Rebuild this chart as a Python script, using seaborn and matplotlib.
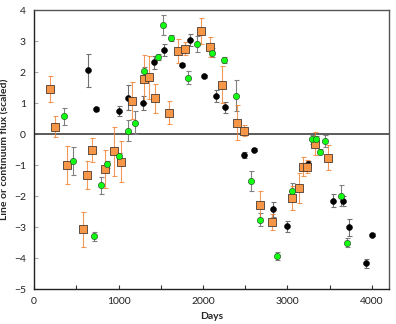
import numpy as np
import pandas as pd
import matplotlib
matplotlib.use('Agg')
from matplotlib import pyplot as plt
from matplotlib.ticker import MultipleLocator
import seaborn as sns

# orange squares (line flux)
orange_days = [183, 250, 391, 576, 631, 682, 845, 949, 1028, 1165, 1299, 1362, 1428,
               1601, 1708, 1783, 1973, 2081, 2219, 2404, 2482, 2671, 2820, 3048, 3137,
               3184, 3225, 3320, 3485]
orange_vals = [1.46, 0.24, -1.01, -3.08, -1.32, -0.51, -1.13, -0.55, -0.89, 1.07, 1.78,
               1.83, 1.15, 0.69, 2.68, 2.75, 3.33, 2.81, 1.59, 0.37, 0.11, -2.28, -2.85,
               -2.07, -1.74, -1.05, -1.05, -0.32, -0.76]
orange_errs = [0.42, 0.33, 0.61, 0.58, 0.45, 0.39, 0.62, 0.79, 0.67, 0.6, 0.78, 0.7, 0.46,
               0.37, 0.4, 0.21, 0.41, 0.32, 0.6, 0.56, 0.18, 0.43, 0.26, 0.39, 0.48,
               0.32, 0.2, 0.37, 0.41]

# black circles
black_days = [635, 737, 1010, 1111, 1290, 1423, 1543, 1751, 1851, 2007, 2152, 2258, 2486,
              2598, 2824, 2989, 3241, 3540, 3653, 3729, 3929, 3995]
black_vals = [2.05, 0.80, 0.75, 1.17, 1.00, 2.31, 2.72, 2.23, 3.03, 1.86, 1.23, 0.86, -0.67,
              -0.50, -2.43, -2.98, -0.96, -2.15, -2.15, -3.01, -4.17, -3.25]
black_errs = [0.54, 0.06, 0.17, 0.4, 0.24, 0.2, 0.2, 0.05, 0.2, 0.05, 0.19, 0.18, 0.09,
              0.05, 0.24, 0.18, 0.1, 0.2, 0.16, 0.28, 0.15, 0.05]

# green circles (continuum)
green_days = [360, 466, 710, 796, 865, 1002, 1115, 1193, 1307, 1466, 1527, 1621, 1822,
              1931, 2105, 2243, 2386, 2573, 2671, 2879, 3050, 3288, 3335, 3390, 3439,
              3636, 3700]
green_vals = [0.57, -0.88, -3.30, -1.66, -0.98, -0.71, 0.11, 0.37, 2.02, 2.49, 3.52, 3.09,
              1.82, 2.91, 2.63, 2.38, 1.24, -1.52, -2.76, -3.92, -1.84, -0.17, -0.17,
              -0.57, -0.22, -1.99, -3.51]
green_errs = [0.27, 0.45, 0.14, 0.27, 0.1, 0.1, 0.33, 0.37, 0.15, 0.1, 0.32, 0.1, 0.21,
              0.25, 0.14, 0.1, 0.49, 0.32, 0.2, 0.13, 0.26, 0.15, 0.1, 0.08, 0.19,
              0.34, 0.15]

orange = pd.DataFrame({'day': orange_days, 'val': orange_vals, 'err': orange_errs})
black = pd.DataFrame({'day': black_days, 'val': black_vals, 'err': black_errs})
green = pd.DataFrame({'day': green_days, 'val': green_vals, 'err': green_errs})

sns.set_style('ticks')
plt.rcParams['font.family'] = ['Lato', 'DejaVu Sans']

fig = plt.figure(figsize=(3.96, 3.24), dpi=100)
ax = fig.add_axes([0.086, 0.108, 0.896, 0.861])

ax.axhline(0, color='#404040', lw=1.2, zorder=1)

# error bars first
ax.errorbar(black['day'], black['val'], yerr=black['err'], fmt='none',
            ecolor='#707070', elinewidth=0.8, capsize=1.8, capthick=0.8, zorder=2)
ax.errorbar(green['day'], green['val'], yerr=green['err'], fmt='none',
            ecolor='#808080', elinewidth=0.8, capsize=1.8, capthick=0.8, zorder=2)
ax.errorbar(orange['day'], orange['val'], yerr=orange['err'], fmt='none',
            ecolor='#F08030', elinewidth=0.8, capsize=1.8, capthick=0.8, alpha=0.8, zorder=2)

sns.scatterplot(data=black, x='day', y='val', ax=ax, color='black', marker='o',
                s=18, edgecolor='black', linewidth=0.4, zorder=3)
sns.scatterplot(data=orange, x='day', y='val', ax=ax, color='#F79646', marker='s',
                s=26, edgecolor='#4a3a30', linewidth=0.6, zorder=4)
sns.scatterplot(data=green, x='day', y='val', ax=ax, color='#11FF11', marker='o',
                s=20, edgecolor='#2a5a2a', linewidth=0.5, zorder=5)

ax.set_xlim(0, 4200)
ax.set_ylim(-5, 4)
ax.xaxis.set_major_locator(MultipleLocator(1000))
ax.xaxis.set_minor_locator(MultipleLocator(500))
ax.yaxis.set_major_locator(MultipleLocator(1))
ax.tick_params(axis='x', which='both', direction='in', length=3, width=0.8,
               color='#333333', labelsize=7.5, pad=6, labelcolor='#222222')
ax.tick_params(axis='y', which='major', direction='in', length=3, width=0.8,
               color='#aaaaaa', labelsize=7.5, pad=6, labelcolor='#222222')

ax.set_xlabel('Days', fontsize=7.5, fontweight='bold', labelpad=4)
ax.set_ylabel('Line or continuum flux (scaled)', fontsize=7.5, fontweight='bold', labelpad=3)

for side in ['left', 'bottom']:
    ax.spines[side].set_color('#222222')
    ax.spines[side].set_linewidth(1.0)
for side in ['top', 'right']:
    ax.spines[side].set_visible(True)
    ax.spines[side].set_color('#555555')
    ax.spines[side].set_linewidth(1.0)

fig.savefig('out.png', dpi=100)
